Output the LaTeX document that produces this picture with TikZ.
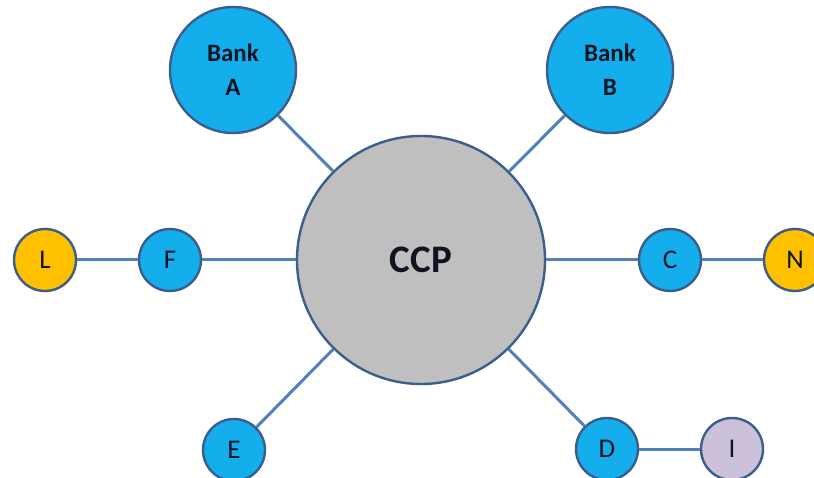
\documentclass[tikz,border=0pt]{standalone}
\usepackage{fontspec}
\setmainfont{Carlito}
\definecolor{nodeblue}{HTML}{14AEEC}
\definecolor{nodegold}{HTML}{FFC000}
\definecolor{nodelav}{HTML}{CCC0DA}
\definecolor{nodegray}{HTML}{BFBFBF}
\definecolor{rimblue}{HTML}{3B5E8C}
\definecolor{linkblue}{HTML}{4F81BD}
\definecolor{txt}{HTML}{0E1420}
\begin{document}
\begin{tikzpicture}[x=1pt,y=-1pt,
  disc/.style={circle,draw=rimblue,line width=2.4pt,inner sep=0pt,text=txt,align=center},
  small/.style={disc,minimum size=62pt,font=\fontsize{27}{27}\selectfont},
  bank/.style={disc,fill=nodeblue,minimum size=126pt,font=\bfseries\fontsize{25}{34}\selectfont},
  link/.style={draw=linkblue,line width=3pt}]
\useasboundingbox (0,0) rectangle (814,478);
\node[disc,fill=nodegray,minimum size=248pt,font=\bfseries\fontsize{39}{39}\selectfont] (ccp) at (421,260) {CCP};
\node[bank] (bankA) at (233,70) {Bank\\A};
\node[bank] (bankB) at (610,70) {Bank\\B};
\node[small,fill=nodegold] (L) at (45,260) {L};
\node[small,fill=nodeblue] (F) at (170,260) {F};
\node[small,fill=nodeblue] (C) at (670,260) {C};
\node[small,fill=nodegold] (N) at (795,260) {N};
\node[small,fill=nodeblue] (E) at (234,450) {E};
\node[small,fill=nodeblue] (D) at (607,449) {D};
\node[small,fill=nodelav] (I) at (732,449) {I};
\draw[link] (bankA) -- (ccp);
\draw[link] (bankB) -- (ccp);
\draw[link] (L) -- (F);
\draw[link] (F) -- (ccp);
\draw[link] (ccp) -- (C);
\draw[link] (C) -- (N);
\draw[link] (E) -- (ccp);
\draw[link] (D) -- (ccp);
\draw[link] (D) -- (I);
\end{tikzpicture}
\end{document}
